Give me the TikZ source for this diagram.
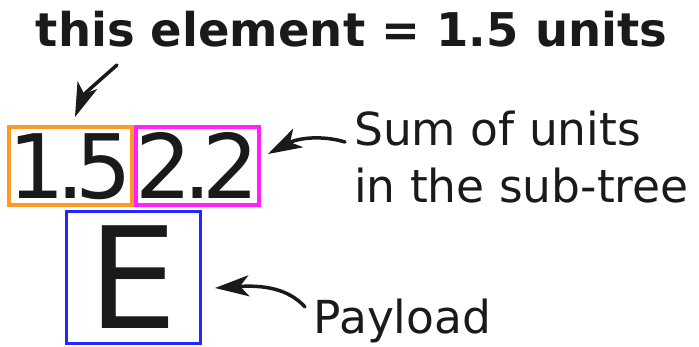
\documentclass[tikz,border=0pt]{standalone}
\usepackage{fontspec}
\setmainfont{DejaVu Sans}
\usetikzlibrary{arrows.meta}
\definecolor{textC}{HTML}{1A1A1A}
\definecolor{orangeC}{HTML}{FF9A22}
\definecolor{magentaC}{HTML}{FF22FF}
\definecolor{blueC}{HTML}{2626FF}
\begin{document}
\begin{tikzpicture}[x=1pt,y=-1pt,
  txt/.style={text=textC, inner sep=0pt},
  cell/.style={inner sep=0pt, text=textC},
  arr/.style={draw=textC, line width=3.5pt, line cap=round,
    -{Stealth[length=34pt,width=21pt,inset=9pt]}}]
\useasboundingbox (0,0) rectangle (699,346);
% title
\node[txt, anchor=base, font=\fontsize{46.5}{56}\selectfont\bfseries] (title) at (351.5,46)
  {this element = 1.5 units};
% boxes
\node[cell, draw=orangeC, line width=4pt, minimum width=121pt, minimum height=78pt,
  text height=64.9pt, text depth=0pt, font=\fontsize{89}{100}\selectfont] (units) at (70.5,166)
  {1\kern-0.1em.\kern-0.1em5};
\node[cell, draw=magentaC, line width=4pt, minimum width=121pt, minimum height=78pt,
  text height=64.9pt, text depth=0pt, font=\fontsize{89}{100}\selectfont] (sum) at (197.5,166)
  {2\kern-0.1em.\kern-0.1em2};
\node[cell, draw=blueC, line width=3pt, minimum width=134pt, minimum height=132pt,
  text height=102.8pt, text depth=0pt, font=\fontsize{141}{150}\selectfont] (payload) at (133.5,277.5)
  {E};
% labels
\node[txt, anchor=base west, align=left, font=\fontsize{45.5}{57}\selectfont] (sumlabel) at (354,202)
  {Sum of units\\in the sub-tree};
\node[txt, anchor=base west, font=\fontsize{45.5}{57}\selectfont] (paylabel) at (313.5,333)
  {Payload};
% arrow end points
\coordinate (a1s) at (117,65);
\coordinate (a1e) at (75,117);
\coordinate (a2s) at (345,142);
\coordinate (a2e) at (268,154);
\coordinate (a3s) at (305,307);
\coordinate (a3e) at (215,288);
\draw[arr] (a1s) .. controls (100,80) and (84,94) .. (a1e);
\draw[arr] (a2s) .. controls (322,135) and (298,138) .. (a2e);
\draw[arr] (a3s) .. controls (288,288) and (262,285) .. (a3e);
\end{tikzpicture}
\end{document}
